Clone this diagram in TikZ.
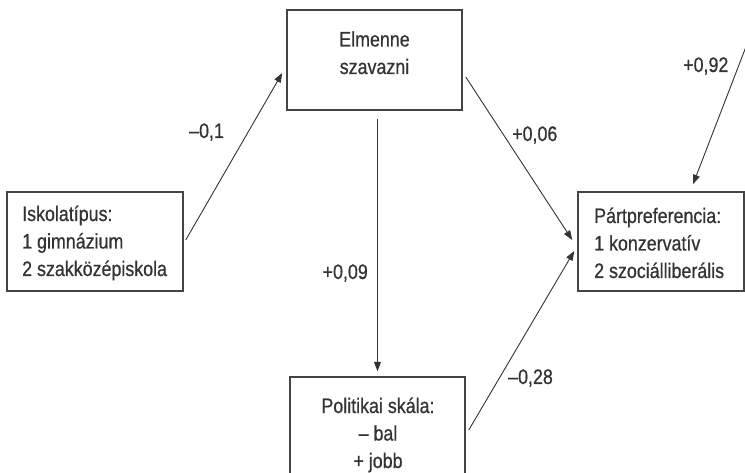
\documentclass[tikz,border=0pt]{standalone}
\usepackage{fontspec}
\setmainfont[FakeBold=0.7]{Liberation Sans}
\usetikzlibrary{arrows.meta,calc}
\definecolor{ink}{HTML}{333333}
\definecolor{edge}{HTML}{444444}
\newcommand\nar[1]{\scalebox{0.85}[1]{#1}}
\begin{document}
\begin{tikzpicture}[x=1pt,y=-1pt,
  box/.style={draw=edge, line width=1.5pt, inner sep=0pt},
  txt/.style={inner sep=0pt, text=ink, font=\fontsize{21}{27.5}\selectfont},
  lbl/.style={inner sep=0pt, text=ink, font=\fontsize{21}{24}\selectfont},
  arr/.style={draw=ink, line width=0.9pt, -{Triangle[length=9.5pt,width=7pt]}}]
\useasboundingbox (0,0) rectangle (745,473);
\clip (0,0) rectangle (745,473);
% boxes
\node[box, minimum width=176pt, minimum height=99pt] (isk) at (95,241.5) {};
\node[box, minimum width=175pt, minimum height=100pt] (elm) at (374.5,60) {};
\node[box, minimum width=166pt, minimum height=99pt] (part) at (661,241.5) {};
\node[box, minimum width=175pt, minimum height=113pt] (pol) at (377.5,433.5) {};
% texts (anchor=base is the baseline of the last line)
\node[txt, align=left, anchor=base west] (iskt) at (22,276) {\nar{Iskolatípus:}\\\nar{1 gimnázium}\\\nar{2 szakközépiskola}};
\node[txt, align=center, anchor=base] (elmt) at (374.5,74) {\nar{Elmenne}\\\nar{szavazni}};
\node[txt, align=left, anchor=base west] (partt) at (594,278) {\nar{Pártpreferencia:}\\\nar{1 konzervatív}\\\nar{2 szociálliberális}};
\node[txt, align=center, anchor=base] (polt) at (378,468) {\nar{Politikai skála:}\\\nar{– bal}\\\nar{+ jobb}};
% connectors
\coordinate (ext) at (750.5,35);
\draw[arr] ($(isk.east)+(2,-1.5)$) -- ($(elm.west)+(-4,13)$);
\draw[arr] ($(elm.east)+(3,17)$) -- ($(part.west)+(-5,-1.5)$);
\draw[arr] ($(pol.north |- elm.south)+(0,8)$) -- ($(pol.north)+(0,-5)$);
\draw[arr] ($(pol.east)+(3,-3.5)$) -- ($(part.west)+(-3,9.5)$);
\draw[arr] (ext) -- ($(part.north)+(32,-7)$);
% labels
\node[lbl, anchor=base west] (l1) at (189,138) {\nar{–0,1}};
\node[lbl, anchor=base west] (l2) at (512,141) {\nar{+0,06}};
\node[lbl, anchor=base east] (l3) at (368,279) {\nar{+0,09}};
\node[lbl, anchor=base west] (l4) at (508,384) {\nar{–0,28}};
\node[lbl, anchor=base west] (l5) at (683,72) {\nar{+0,92}};
\end{tikzpicture}
\end{document}
